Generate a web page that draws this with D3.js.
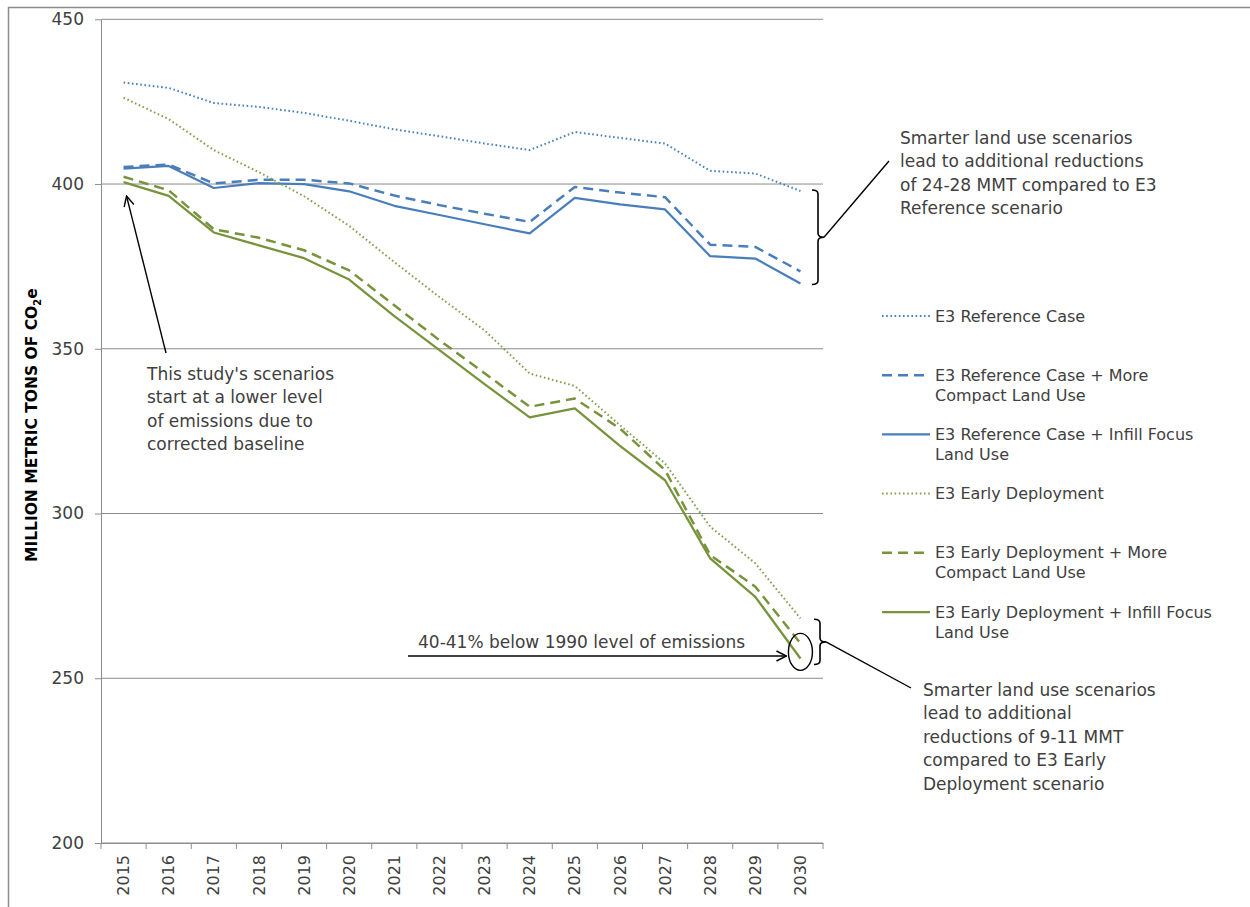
<!DOCTYPE html>
<html>
<head>
<meta charset="utf-8">
<script src="https://cdn.jsdelivr.net/npm/d3@7"></script>
<style>
  body { margin: 0; background: #fff; }
  svg { font-family: "DejaVu Sans", sans-serif; }
  .axis text { fill: #404040; }
  .y-axis text { font-size: 17px; }
  .x-axis text { font-size: 16px; }
  .note { fill: #404040; font-size: 17px; }
  .legend text { fill: #404040; font-size: 16px; }
</style>
</head>
<body>
<svg id="chart"></svg>
<script>
// Years on the x axis
const years = [2015, 2016, 2017, 2018, 2019, 2020, 2021, 2022, 2023, 2024, 2025, 2026, 2027, 2028, 2029, 2030];

// Series values, million metric tons of CO2e
const refCase      = [430.8, 429.2, 424.6, 423.4, 421.6, 419.2, 416.6, 414.5, 412.3, 410.3, 415.8, 414.0, 412.3, 404.0, 403.2, 397.9];
const refCompact   = [405.2, 405.9, 400.2, 401.3, 401.3, 400.2, 396.5, 393.6, 391.0, 388.5, 399.1, 397.4, 396.0, 381.6, 380.9, 373.5];
const refInfill    = [404.7, 405.5, 398.8, 400.3, 400.0, 397.8, 393.4, 390.6, 387.8, 385.0, 395.8, 393.8, 392.3, 378.1, 377.4, 369.8];
const earlyDep     = [426.2, 419.7, 410.3, 403.6, 396.3, 387.3, 376.3, 365.7, 355.6, 342.5, 338.7, 326.8, 315.2, 296.0, 284.9, 268.2];
const earlyCompact = [402.2, 398.1, 386.3, 383.7, 379.9, 373.8, 363.2, 352.6, 342.6, 332.4, 334.9, 325.8, 313.2, 287.4, 277.8, 260.6];
const earlyInfill  = [400.6, 396.4, 385.3, 381.4, 377.5, 371.0, 359.9, 349.6, 339.3, 329.2, 331.9, 320.5, 310.1, 286.4, 274.7, 256.0];

const yTicks = [200, 250, 300, 350, 400, 450];

const seriesNames = [
  ['E3 Reference Case'],
  ['E3 Reference Case + More', 'Compact Land Use'],
  ['E3 Reference Case + Infill Focus', 'Land Use'],
  ['E3 Early Deployment'],
  ['E3 Early Deployment + More', 'Compact Land Use'],
  ['E3 Early Deployment + Infill Focus', 'Land Use']
];
const seriesValues = [refCase, refCompact, refInfill, earlyDep, earlyCompact, earlyInfill];

const blue = '#4a7ebb', green = '#77933c';
const styles = [
  {color: blue,  dash: '1.6,2.6', width: 2},
  {color: blue,  dash: '10,6',    width: 2.5},
  {color: blue,  dash: null,      width: 2.25},
  {color: '#80a04c', dash: '1.6,2.6', width: 2},
  {color: green, dash: '10,6',    width: 2.5},
  {color: green, dash: null,      width: 2.25}
];

class LineChart {
  constructor(_config, _series) {
    this.config = {
      parentElement: _config.parentElement,
      containerWidth: _config.containerWidth || 1250,
      containerHeight: _config.containerHeight || 907,
      margin: _config.margin || {top: 19.3, right: 427, bottom: 64, left: 101}
    };
    this.series = _series;
    this.initVis();
  }

  initVis() {
    let vis = this;
    vis.width = vis.config.containerWidth - vis.config.margin.left - vis.config.margin.right;
    vis.height = vis.config.containerHeight - vis.config.margin.top - vis.config.margin.bottom;

    vis.svg = d3.select(vis.config.parentElement)
        .attr('width', vis.config.containerWidth)
        .attr('height', vis.config.containerHeight);

    // outer frame of the original figure
    vis.svg.append('path')
        .attr('d', `M8.5,${vis.config.containerHeight} V7.5 H${vis.config.containerWidth}`)
        .attr('fill', 'none')
        .attr('stroke', '#8c8c8c')
        .attr('stroke-width', 1.5);

    vis.chart = vis.svg.append('g')
        .attr('transform', `translate(${vis.config.margin.left},${vis.config.margin.top})`);

    vis.xScale = d3.scaleBand().domain(years).range([0, vis.width]).padding(0);
    vis.yScale = d3.scaleLinear().domain([200, 450]).range([vis.height, 0]);

    vis.defs = vis.svg.append('defs');
    vis.defs.append('marker')
        .attr('id', 'arrow')
        .attr('viewBox', '0 0 12 12')
        .attr('refX', 11).attr('refY', 6)
        .attr('markerWidth', 12).attr('markerHeight', 12)
        .attr('markerUnits', 'userSpaceOnUse')
        .attr('orient', 'auto')
      .append('path')
        .attr('d', 'M1,1 L11,6 L1,11')
        .attr('fill', 'none')
        .attr('stroke', '#000')
        .attr('stroke-width', 1.4);
  }

  renderVis() {
    let vis = this;

    // gridlines
    vis.chart.append('g')
        .selectAll('line')
        .data(yTicks)
      .join('line')
        .attr('x1', 0).attr('x2', vis.width)
        .attr('y1', d => vis.yScale(d)).attr('y2', d => vis.yScale(d))
        .attr('stroke', '#8c8c8c')
        .attr('stroke-width', 1);

    // y axis
    const yAxisG = vis.chart.append('g')
        .attr('class', 'axis y-axis')
        .call(d3.axisLeft(vis.yScale).tickValues(yTicks).tickSize(6).tickSizeOuter(0).tickPadding(11));
    yAxisG.attr('font-size', null).attr('font-family', null);
    yAxisG.selectAll('line, path').attr('stroke', '#8c8c8c');

    // x axis: labels in band centres, ticks on band edges
    const xAxisG = vis.chart.append('g')
        .attr('class', 'axis x-axis')
        .attr('transform', `translate(0,${vis.height})`)
        .call(d3.axisBottom(vis.xScale).tickSize(0).tickSizeOuter(0));
    xAxisG.attr('font-size', null).attr('font-family', null);
    xAxisG.select('.domain').attr('stroke', '#8c8c8c');
    xAxisG.selectAll('.tick text')
        .style('text-anchor', 'end')
        .attr('transform', 'rotate(-90)')
        .attr('x', -12)
        .attr('y', 0)
        .attr('dy', '0.35em');
    xAxisG.selectAll('.edge')
        .data(years.map(d => vis.xScale(d)).concat([vis.width]))
      .join('line')
        .attr('class', 'edge')
        .attr('x1', d => d).attr('x2', d => d)
        .attr('y1', 0).attr('y2', 6)
        .attr('stroke', '#8c8c8c');

    // y axis title
    const title = vis.svg.append('text')
        .attr('transform', `translate(37,${vis.config.margin.top + vis.height / 2 - 6}) rotate(-90)`)
        .attr('text-anchor', 'middle')
        .style('font-size', '15.5px')
        .style('font-weight', 'bold')
        .attr('fill', '#000');
    title.append('tspan').text('MILLION METRIC TONS OF CO');
    title.append('tspan').text('2').style('font-size', '10px').attr('dy', 4);
    title.append('tspan').text('e').attr('dy', -4);

    // lines
    const line = d3.line()
        .x((d, i) => vis.xScale(years[i]) + vis.xScale.bandwidth() / 2)
        .y(d => vis.yScale(d));

    vis.chart.selectAll('.series')
        .data(vis.series)
      .join('path')
        .attr('class', 'series')
        .attr('d', d => line(d))
        .attr('fill', 'none')
        .attr('stroke', (d, i) => styles[i].color)
        .attr('stroke-width', (d, i) => styles[i].width)
        .attr('stroke-dasharray', (d, i) => styles[i].dash)
        .attr('stroke-linejoin', 'round');

    vis.renderLegend();
    vis.renderNotes();
  }

  renderLegend() {
    let vis = this;
    const legend = vis.svg.append('g')
        .attr('class', 'legend')
        .attr('transform', 'translate(882,316)');

    const rows = legend.selectAll('g')
        .data(seriesNames)
      .join('g')
        .attr('transform', (d, i) => `translate(0,${i * 59.2})`);

    rows.append('line')
        .attr('x1', 0).attr('x2', 48)
        .attr('y1', 0).attr('y2', 0)
        .attr('stroke', (d, i) => styles[i].color)
        .attr('stroke-width', (d, i) => styles[i].width)
        .attr('stroke-dasharray', (d, i) => styles[i].dash);

    rows.append('text')
        .attr('x', 53)
        .attr('y', 0)
        .selectAll('tspan')
        .data(d => d)
      .join('tspan')
        .attr('x', 53)
        .attr('dy', (d, i) => i === 0 ? '0.35em' : 20)
        .text(d => d);
  }

  renderNotes() {
    let vis = this;
    const xs = vis.xScale, ys = vis.yScale;
    const cx = y => xs(y) + xs.bandwidth() / 2 + vis.config.margin.left;
    const cy = v => ys(v) + vis.config.margin.top;
    const g = vis.svg.append('g');

    const multiline = (x, y, lines) => {
      g.append('text')
          .attr('class', 'note')
          .selectAll('tspan')
          .data(lines)
        .join('tspan')
          .attr('x', x)
          .attr('y', (d, i) => y + i * 23.4)
          .attr('dy', '0.35em')
          .text(d => d);
    };

    // start-point arrow
    g.append('line')
        .attr('x1', 166).attr('y1', 353)
        .attr('x2', cx(2015) + 3).attr('y2', cy(earlyInfill[0]) + 14)
        .attr('stroke', '#000').attr('stroke-width', 1.4)
        .attr('marker-end', 'url(#arrow)');
    multiline(147, 374, ["This study's scenarios", 'start at a lower level', 'of emissions due to', 'corrected baseline']);

    // 2030 ellipse and arrow
    const ex = cx(2030), ey = cy(258);
    g.append('ellipse')
        .attr('cx', ex).attr('cy', ey)
        .attr('rx', 12).attr('ry', 18.5)
        .attr('fill', 'none').attr('stroke', '#000').attr('stroke-width', 1.4);
    g.append('line')
        .attr('x1', 408).attr('y1', 656)
        .attr('x2', ex - 14).attr('y2', 656)
        .attr('stroke', '#000').attr('stroke-width', 1.4)
        .attr('marker-end', 'url(#arrow)');
    g.append('text')
        .attr('class', 'note')
        .attr('x', 418).attr('y', 642).attr('dy', '0.35em')
        .text('40-41% below 1990 level of emissions');

    // brackets
    const bracket = (top, bottom, x) => {
      const mid = (top + bottom) / 2;
      g.append('path')
          .attr('d', `M${x - 6},${top} Q${x},${top} ${x},${top + 4} V${mid - 4} Q${x},${mid} ${x + 6},${mid}` +
                     ` Q${x},${mid} ${x},${mid + 4} V${bottom - 4} Q${x},${bottom} ${x - 6},${bottom}`)
          .attr('fill', 'none').attr('stroke', '#000').attr('stroke-width', 1.6);
      return mid;
    };
    const m1 = bracket(cy(refCase[15]) - 1, cy(refInfill[15]) + 1, 818);
    g.append('line')
        .attr('x1', 824).attr('y1', m1).attr('x2', 889).attr('y2', 161)
        .attr('stroke', '#000').attr('stroke-width', 1.4);
    multiline(900, 138, ['Smarter land use scenarios', 'lead to additional reductions', 'of 24-28 MMT compared to E3', 'Reference scenario']);

    const m2 = bracket(cy(earlyDep[15]) + 1, cy(earlyInfill[15]) + 6, 820);
    g.append('line')
        .attr('x1', 826).attr('y1', m2).attr('x2', 911).attr('y2', 688)
        .attr('stroke', '#000').attr('stroke-width', 1.4);
    multiline(923, 690, ['Smarter land use scenarios', 'lead to additional', 'reductions of 9-11 MMT', 'compared to E3 Early', 'Deployment scenario']);
  }
}

const chart = new LineChart({parentElement: '#chart'}, seriesValues);
chart.renderVis();
</script>
</body>
</html>
